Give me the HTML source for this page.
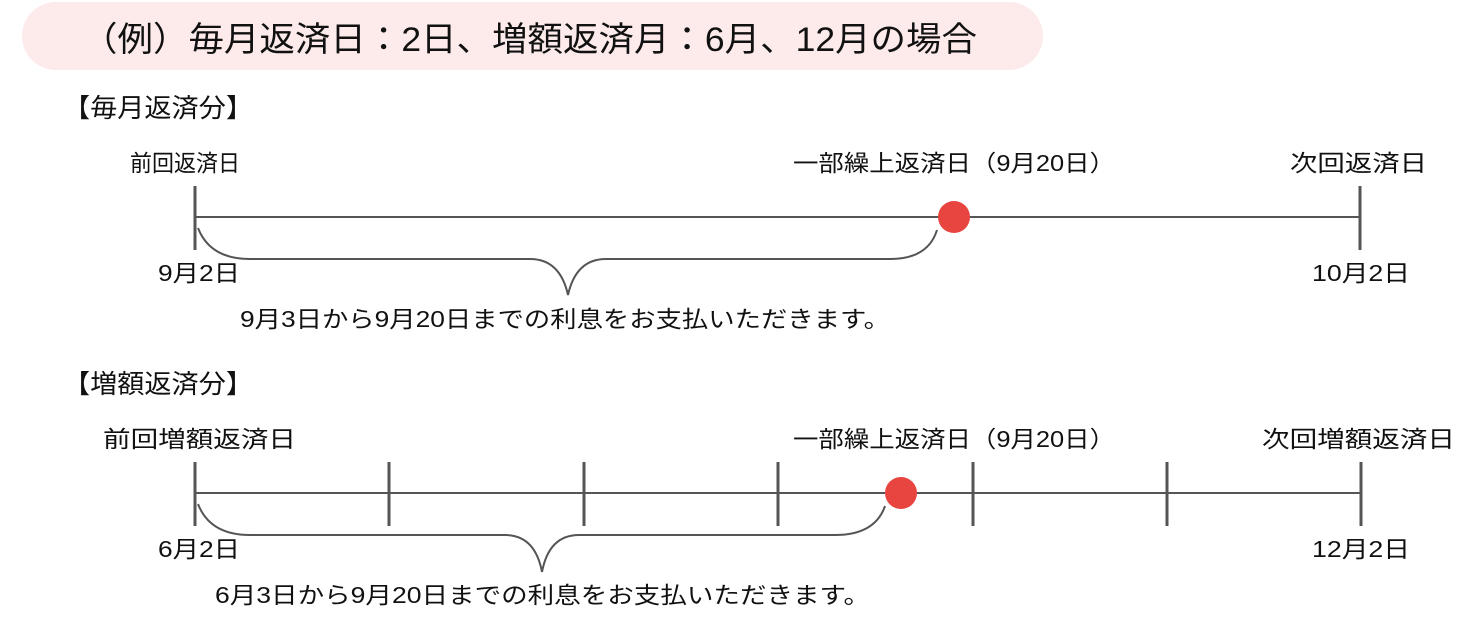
<!DOCTYPE html>
<html><head><meta charset="utf-8"><style>
body{margin:0;background:#fff;}
svg text{font-family:"Liberation Sans","Noto Sans CJK JP",sans-serif;fill:#111;}
</style></head><body>
<svg width="1480" height="620" viewBox="0 0 1480 620" xmlns="http://www.w3.org/2000/svg">
<rect x="22" y="2" width="1021" height="68" rx="34" fill="#fdeaea"/>
<text x="82" y="51" font-size="34" textLength="895" lengthAdjust="spacingAndGlyphs">（例）毎月返済日：2日、増額返済月：6月、12月の場合</text>

<text x="63" y="117" font-size="26" textLength="190" lengthAdjust="spacingAndGlyphs">【毎月返済分】</text>
<g font-size="23">
<text x="130" y="171" textLength="110" lengthAdjust="spacingAndGlyphs">前回返済日</text>
<text x="793" y="171" textLength="322" lengthAdjust="spacingAndGlyphs">一部繰上返済日（9月20日）</text>
<text x="1290" y="171" textLength="137" lengthAdjust="spacingAndGlyphs">次回返済日</text>
<text x="158" y="281" textLength="82" lengthAdjust="spacingAndGlyphs">9月2日</text>
<text x="1312" y="281" textLength="98" lengthAdjust="spacingAndGlyphs">10月2日</text>
<text x="240" y="327" textLength="650" lengthAdjust="spacingAndGlyphs">9月3日から9月20日までの利息をお支払いただきます。</text>
</g>
<g stroke="#555" fill="none">
<line x1="195" y1="217" x2="1360" y2="217" stroke-width="2"/>
<line x1="195" y1="186" x2="195" y2="250" stroke-width="3"/>
<line x1="1360" y1="186" x2="1360" y2="250" stroke-width="3"/>
<path d="M198 228 Q210 259 250 259 L530 259 Q560 259 568 295 Q576 259 606 259 L890 259 Q928 259 937 230" stroke-width="2"/>
</g>
<circle cx="954" cy="217" r="16" fill="#e84440"/>

<text x="63" y="393" font-size="26" textLength="190" lengthAdjust="spacingAndGlyphs">【増額返済分】</text>
<g font-size="23">
<text x="103" y="447" textLength="193" lengthAdjust="spacingAndGlyphs">前回増額返済日</text>
<text x="793" y="447" textLength="322" lengthAdjust="spacingAndGlyphs">一部繰上返済日（9月20日）</text>
<text x="1262" y="447" textLength="193" lengthAdjust="spacingAndGlyphs">次回増額返済日</text>
<text x="158" y="557" textLength="82" lengthAdjust="spacingAndGlyphs">6月2日</text>
<text x="1312" y="557" textLength="98" lengthAdjust="spacingAndGlyphs">12月2日</text>
<text x="215" y="603" textLength="655" lengthAdjust="spacingAndGlyphs">6月3日から9月20日までの利息をお支払いただきます。</text>
</g>
<g stroke="#555" fill="none">
<line x1="195" y1="493" x2="1360" y2="493" stroke-width="2"/>
<g stroke-width="3">
<line x1="195" y1="462" x2="195" y2="526"/>
<line x1="389" y1="462" x2="389" y2="526"/>
<line x1="584" y1="462" x2="584" y2="526"/>
<line x1="778" y1="462" x2="778" y2="526"/>
<line x1="973" y1="462" x2="973" y2="526"/>
<line x1="1167" y1="462" x2="1167" y2="526"/>
<line x1="1361" y1="462" x2="1361" y2="526"/>
</g>
<path d="M198 504 Q210 535 250 535 L505 535 Q535 535 542 572 Q549 535 579 535 L835 535 Q875 535 885 506" stroke-width="2"/>
</g>
<circle cx="901" cy="493" r="16" fill="#e84440"/>
</svg>
</body></html>
